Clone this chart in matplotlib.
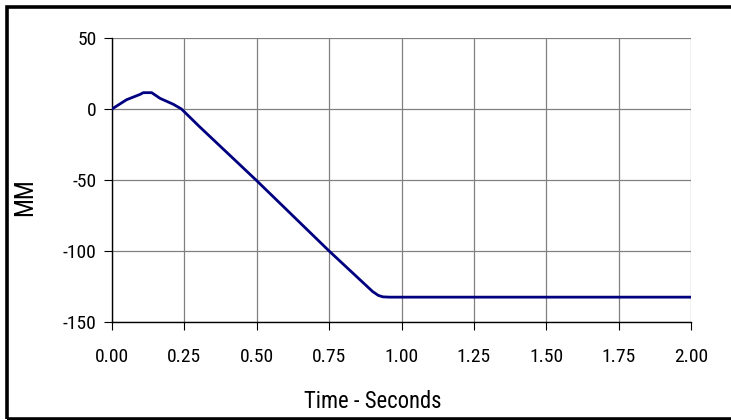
import matplotlib.pyplot as plt
from matplotlib import font_manager
from matplotlib.patches import Rectangle

# Displacement trace, read at the break points of the curve
time_s = [0.0, 0.05, 0.097, 0.108, 0.137, 0.166, 0.212, 0.24, 0.30, 0.50, 0.75,
          0.90, 0.92, 0.936, 0.96, 2.0]
disp_mm = [0.0, 6.5, 10.3, 11.5, 11.5, 7.5, 3.3, 0.0, -12.0, -50.5, -100.0,
           -128.5, -131.3, -132.3, -132.5, -132.5]

x_ticks = [0.0, 0.25, 0.5, 0.75, 1.0, 1.25, 1.5, 1.75, 2.0]
y_ticks = [-150, -100, -50, 0, 50]

# pick a narrow sans face if one is installed
fonts = font_manager.fontManager.ttflist
names = {f.name for f in fonts}
font_kw = {'family': 'Liberation Sans'}
size_scale = 0.86
for nm in ['Liberation Sans Narrow', 'Arial Narrow', 'Roboto Condensed']:
    if nm in names:
        font_kw = {'family': nm}
        size_scale = 1.0
        break
else:
    if any(f.name == 'DejaVu Sans' and f.stretch == 'condensed' for f in fonts):
        font_kw = {'family': 'DejaVu Sans', 'stretch': 'condensed'}
        size_scale = 0.9

fig = plt.figure(figsize=(7.31, 4.2), dpi=100)
ax = fig.add_axes([112 / 731, 1 - 322 / 420, (691 - 112) / 731, (322 - 38) / 420])

ax.plot(time_s, disp_mm, color='#000080', lw=2.0, solid_capstyle='round', zorder=3)

ax.set_xlim(0, 2.0)
ax.set_ylim(-150, 50)
ax.set_xticks(x_ticks)
ax.set_yticks(y_ticks)
tick_size = 14 * size_scale
ax.set_xticklabels([f'{t:.2f}' for t in x_ticks], fontsize=tick_size, **font_kw)
ax.set_yticklabels([str(v) for v in y_ticks], fontsize=tick_size, **font_kw)
ax.tick_params(axis='x', direction='out', length=6, width=0.8, color='black', pad=13)
ax.tick_params(axis='y', direction='out', length=6, width=0.8, color='black', pad=5)
ax.grid(True, color='#808080', lw=0.9)
ax.set_axisbelow(True)

for side in ['top', 'right']:
    ax.spines[side].set_visible(False)
for side in ['left', 'bottom']:
    ax.spines[side].set_color('black')
    ax.spines[side].set_linewidth(1.0)

# axis titles sit where the spreadsheet placed them, not centred on the axes
fig.text(373 / 731, 1 - 401 / 420, 'Time - Seconds', ha='center', va='center',
         fontsize=16.3 * size_scale, **font_kw)
fig.text(25 / 731, 1 - 197 / 420, 'MM', ha='center', va='center', rotation=90,
         fontsize=18 * size_scale, **font_kw)

# black frame around the chart area
fig.patches.append(Rectangle((6.5 / 731, 1.5 / 420), 740 / 731, (413.5 - 1.5) / 420,
                             transform=fig.transFigure, fill=False,
                             edgecolor='black', lw=2.6))

fig.savefig('out.png', dpi=100)
